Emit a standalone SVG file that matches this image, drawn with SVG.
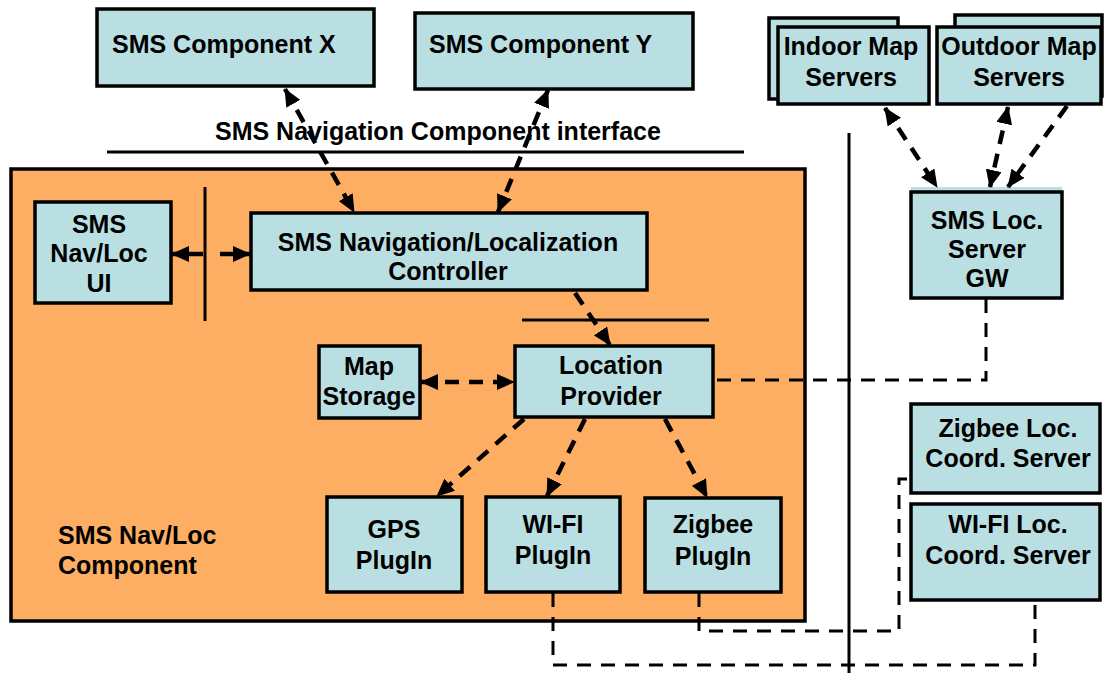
<svg xmlns="http://www.w3.org/2000/svg" width="1105" height="673" viewBox="0 0 1105 673">
<style>
.box{fill:#B9DFE2;stroke:#000;stroke-width:3.5}
.t{font-family:"Liberation Sans",Arial,Helvetica,sans-serif;font-weight:bold;font-size:25px;fill:#000}
.m{text-anchor:middle}
.sep{stroke:#000;stroke-width:3;fill:none}
.da{stroke:#000;stroke-width:4.5;fill:none;stroke-dasharray:14 10}
.dt{stroke:#000;stroke-width:3;fill:none;stroke-dasharray:14 10}
.so{stroke:#000;stroke-width:4.5;fill:none}
</style>
<defs>
<marker id="ah" viewBox="0 0 18 16" refX="17" refY="8" markerWidth="18" markerHeight="16" markerUnits="userSpaceOnUse" orient="auto-start-reverse">
<path d="M0,0 L18,8 L0,16 z" fill="#000"/>
</marker>
</defs>
<rect width="1105" height="673" fill="#fff"/>
<g id="navloc-component">
<rect x="11" y="169" width="794" height="452" fill="#FDAE62" stroke="#000" stroke-width="3.5"/>
<text class="t" x="58" y="544">SMS Nav/Loc</text>
<text class="t" x="58" y="574">Component</text>
</g>
<g id="sms-component-x">
<rect class="box" x="97" y="9" width="277" height="77"/>
<text class="t" x="112" y="53">SMS Component X</text>
</g>
<g id="sms-component-y">
<rect class="box" x="415" y="13" width="278" height="76"/>
<text class="t" x="429" y="53">SMS Component Y</text>
</g>
<g id="interface-label">
<text class="t" x="215" y="140">SMS Navigation Component interface</text>
</g>
<g id="navloc-ui">
<rect class="box" x="35" y="202" width="136" height="101"/>
<text class="t m" x="99" y="233">SMS</text>
<text class="t m" x="99" y="262">Nav/Loc</text>
<text class="t m" x="99" y="292">UI</text>
</g>
<g id="controller">
<rect class="box" x="251" y="213" width="396" height="77"/>
<text class="t m" x="448" y="251">SMS Navigation/Localization</text>
<text class="t m" x="448" y="280">Controller</text>
</g>
<g id="map-storage">
<rect class="box" x="319" y="346" width="101" height="72"/>
<text class="t m" x="369" y="375">Map</text>
<text class="t m" x="369" y="405">Storage</text>
</g>
<g id="location-provider">
<rect class="box" x="515" y="346" width="198" height="71"/>
<text class="t m" x="611" y="374">Location</text>
<text class="t m" x="611" y="405">Provider</text>
</g>
<g id="gps-plugin">
<rect class="box" x="327" y="497" width="135" height="95"/>
<text class="t m" x="394" y="538">GPS</text>
<text class="t m" x="394" y="569">PlugIn</text>
</g>
<g id="wifi-plugin">
<rect class="box" x="486" y="497" width="134" height="95"/>
<text class="t m" x="553" y="533">WI-FI</text>
<text class="t m" x="553" y="564">PlugIn</text>
</g>
<g id="zigbee-plugin">
<rect class="box" x="645" y="498" width="136" height="94"/>
<text class="t m" x="713" y="533">Zigbee</text>
<text class="t m" x="713" y="565">PlugIn</text>
</g>
<g id="indoor-map-servers">
<rect class="box" x="769" y="18" width="129" height="81"/>
<rect class="box" x="778" y="27" width="151" height="77"/>
<text class="t m" x="851" y="55">Indoor Map</text>
<text class="t m" x="851" y="86">Servers</text>
</g>
<g id="outdoor-map-servers">
<rect class="box" x="955" y="15" width="147" height="81"/>
<rect class="box" x="937" y="27" width="164" height="77"/>
<text class="t m" x="1019" y="55">Outdoor Map</text>
<text class="t m" x="1019" y="86">Servers</text>
</g>
<g id="loc-server-gw">
<rect x="911" y="187" width="151" height="6" fill="#B9DFE2"/>
<rect class="box" x="911" y="192" width="151" height="106"/>
<text class="t m" x="987" y="229">SMS Loc.</text>
<text class="t m" x="987" y="258">Server</text>
<text class="t m" x="987" y="287">GW</text>
</g>
<g id="zigbee-coord-server">
<rect class="box" x="911" y="404" width="189" height="89"/>
<text class="t m" x="1008" y="437">Zigbee Loc.</text>
<text class="t m" x="1008" y="467">Coord. Server</text>
</g>
<g id="wifi-coord-server">
<rect class="box" x="911" y="504" width="189" height="96"/>
<text class="t m" x="1008" y="533">WI-FI Loc.</text>
<text class="t m" x="1008" y="564">Coord. Server</text>
</g>
<g id="connectors">
<line class="sep" x1="107" y1="152" x2="744" y2="152"/>
<line class="sep" x1="205" y1="187" x2="205" y2="321"/>
<line class="sep" x1="522" y1="320" x2="709" y2="320"/>
<line class="sep" x1="849" y1="133" x2="849" y2="673"/>
<line class="da" x1="285" y1="89" x2="354" y2="212" marker-start="url(#ah)" marker-end="url(#ah)"/>
<line class="da" x1="548" y1="90" x2="498" y2="212" marker-start="url(#ah)" marker-end="url(#ah)"/>
<line class="so" x1="203" y1="254" x2="172" y2="254" marker-end="url(#ah)"/>
<line class="so" x1="220" y1="254" x2="250" y2="254" marker-end="url(#ah)"/>
<line class="da" x1="575" y1="293" x2="610" y2="345" marker-end="url(#ah)"/>
<line class="da" x1="421" y1="382" x2="514" y2="382" marker-start="url(#ah)" marker-end="url(#ah)"/>
<line class="da" x1="524" y1="419" x2="437" y2="496" marker-end="url(#ah)"/>
<line class="da" x1="585" y1="419" x2="547" y2="496" marker-end="url(#ah)"/>
<line class="da" x1="665" y1="419" x2="707" y2="497" marker-end="url(#ah)"/>
<line class="da" x1="885" y1="108" x2="937" y2="187" marker-start="url(#ah)" marker-end="url(#ah)"/>
<line class="da" x1="1008" y1="107" x2="990" y2="187" marker-start="url(#ah)" marker-end="url(#ah)"/>
<line class="da" x1="1067" y1="106" x2="1008" y2="187" marker-end="url(#ah)"/>
<polyline class="dt" points="986,299 986,380 714,380"/>
<polyline class="dt" points="699,593 699,631 899,631 899,479 911,479"/>
<polyline class="dt" points="553,593 553,665 1035,665 1035,601"/>
</g>
</svg>
